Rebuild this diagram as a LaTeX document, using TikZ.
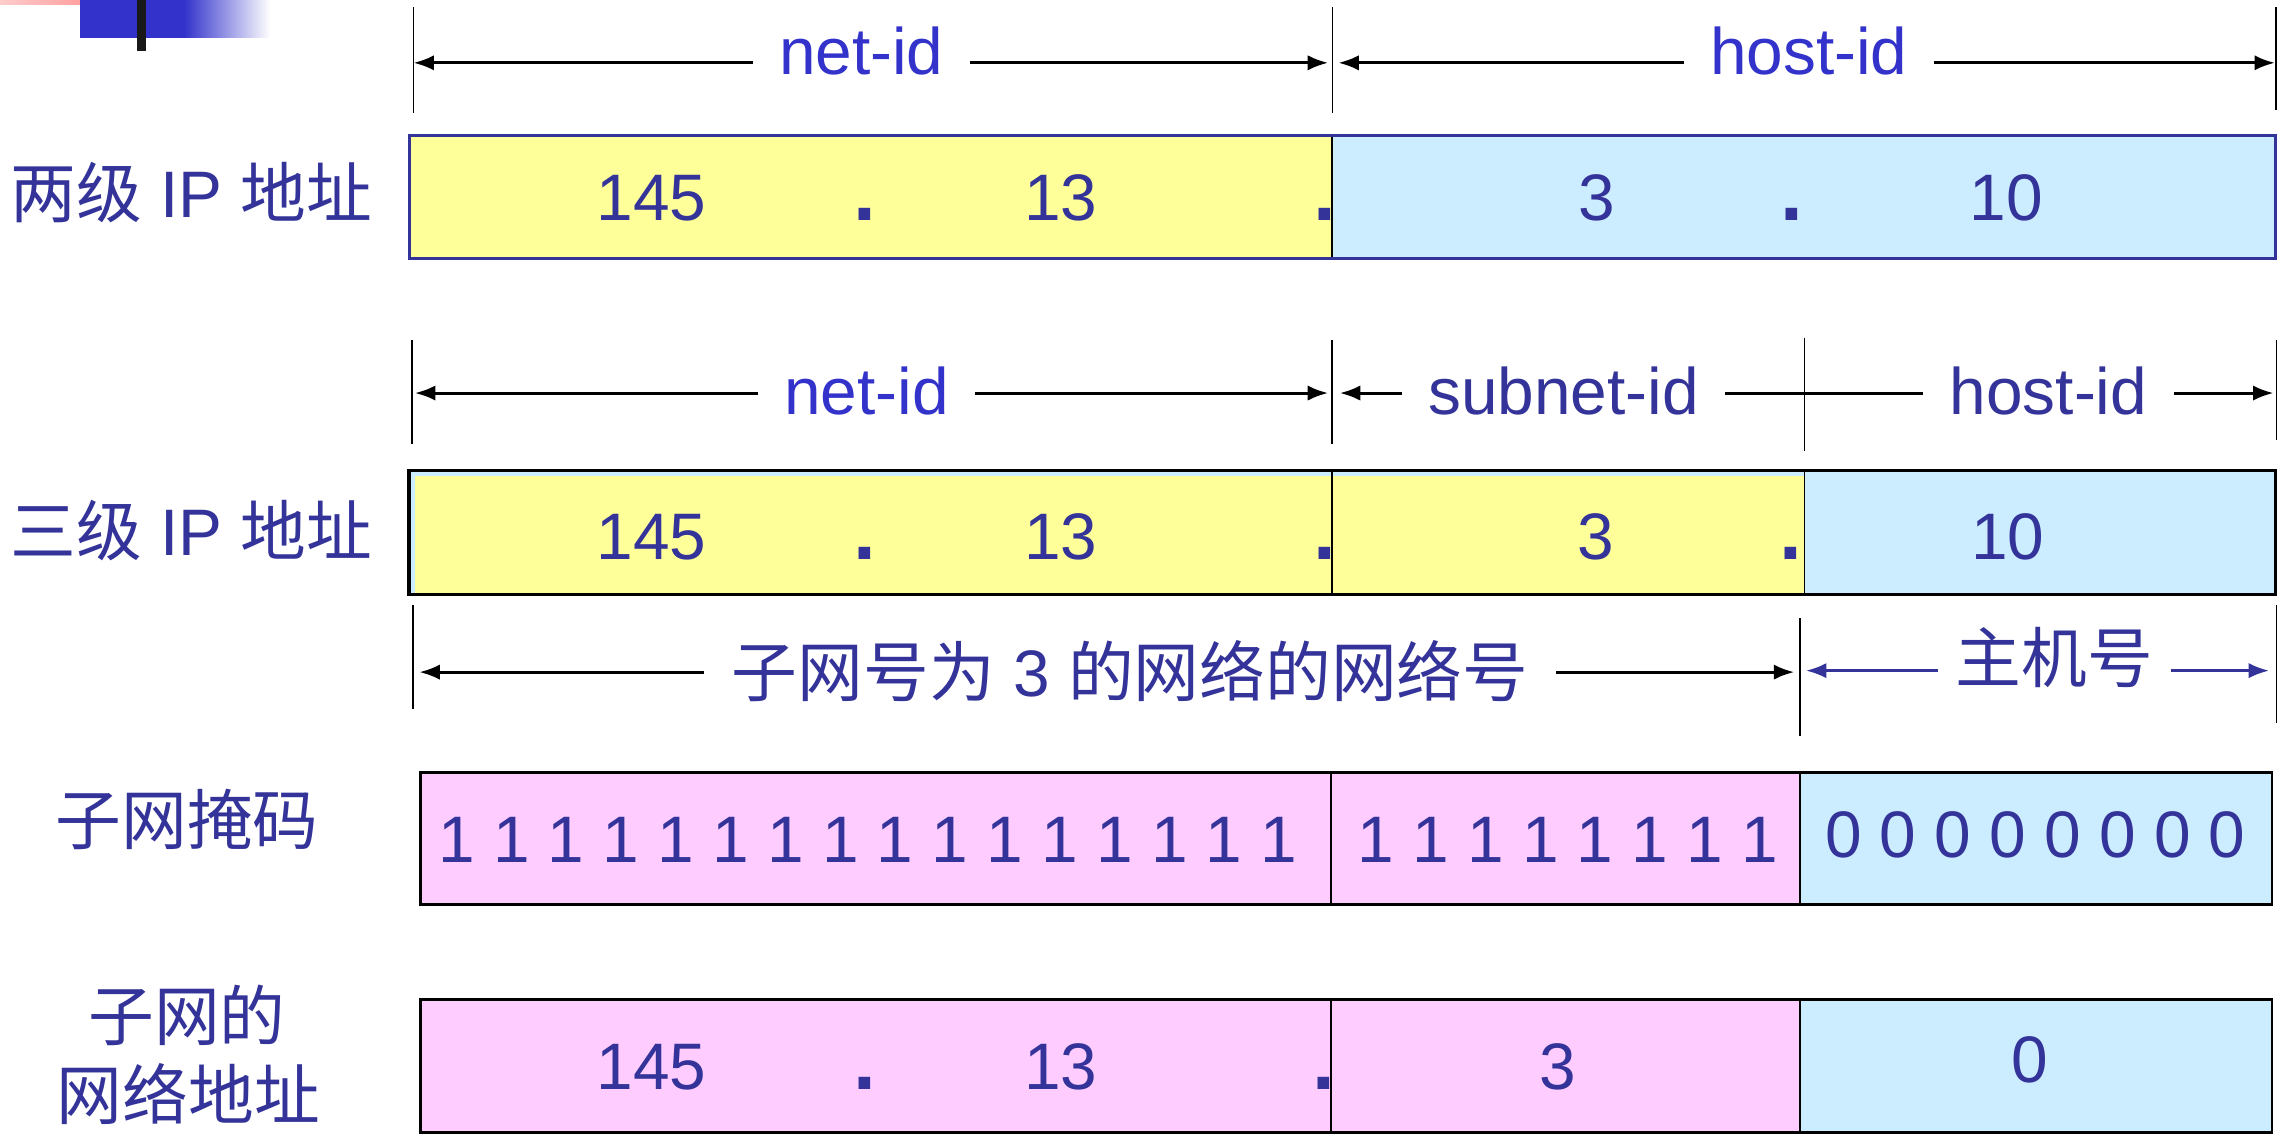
\documentclass[tikz,border=0pt]{standalone}
\usepackage{fontspec}
\setmainfont{Liberation Sans}
\newfontfamily\cjk{Noto Sans CJK SC}
\usetikzlibrary{arrows.meta}
\definecolor{dkblue}{HTML}{333399}
\definecolor{brblue}{HTML}{3333CC}
\definecolor{fillyel}{HTML}{FFFF99}
\definecolor{fillblue}{HTML}{CCECFF}
\definecolor{fillpink}{HTML}{FFCCFF}
\tikzset{
  lbl/.style={anchor=base, text=dkblue, inner sep=0pt},
  dotlbl/.style={anchor=base, text=dkblue, inner sep=0pt, font=\fontsize{56}{60}\selectfont\bfseries},
  dimlbl/.style={anchor=base, inner xsep=18pt, inner ysep=0pt},
  tickline/.style={line width=1.2pt, black},
  divline/.style={line width=1.2pt, black},
  dimarr/.style={line width=2pt, black, -{Latex[length=14pt,width=10.5pt]}},
  bluearr/.style={line width=2pt, dkblue, -{Latex[length=14pt,width=10.5pt]}},
}
\begin{document}
\begin{tikzpicture}[x=1pt, y=-1pt, font=\fontsize{45}{54}\selectfont]
\useasboundingbox (0,0) rectangle (1568,785);
\fill[white] (0,0) rectangle (1568,785);

% corner decoration
\shade[left color=red!20, right color=red!45] (0,0) rectangle (81,3);
\fill[brblue] (55,0) rectangle (126,26);
\shade[left color=brblue, right color=white] (126,0) rectangle (185,26);
\fill[black!90] (94,0) rectangle (100,35);

% ---------- row 1: two-level ----------
\draw[tickline] (283,5) -- (283,77);
\draw[tickline] (912,5) -- (912,77);
\draw[tickline] (1557.5,5) -- (1557.5,75);
\coordinate (r1a) at (283,43);
\coordinate (r1b) at (909,43);
\coordinate (r1c) at (916,43);
\coordinate (r1d) at (1557,43);
\node[dimlbl, text=brblue] (netid1) at (589.5,51) {net-id};
\node[dimlbl, text=brblue] (hostid1) at (1238,51) {host-id};
\draw[dimarr] (netid1.west |- r1a) -- (r1a);
\draw[dimarr] (netid1.east |- r1b) -- (r1b);
\draw[dimarr] (hostid1.west |- r1c) -- (r1c);
\draw[dimarr] (hostid1.east |- r1d) -- (r1d);

\node[lbl] (lab1) at (131,149) {{\cjk 两级} IP {\cjk 地址}};
\fill[fillyel] (280,93) rectangle (911.5,177);
\fill[fillblue] (911.5,93) rectangle (1557.5,177);
\node[lbl] (b1a) at (446,151) {145};
\node[dotlbl] (b1b) at (592,151) {.};
\node[lbl] (b1c) at (726,151) {13};
\node[dotlbl] (b1d) at (907,151) {.};
\node[lbl] (b1e) at (1093,151) {3};
\node[dotlbl] (b1f) at (1226.5,151) {.};
\node[lbl] (b1g) at (1373,151) {10};
\draw[divline] (911.5,93) -- (911.5,177);
\draw[dkblue, line width=2pt] (280,93) rectangle (1557.5,177);

% ---------- row 2: three-level ----------
\draw[tickline] (282,233) -- (282,304);
\draw[tickline] (911.5,233) -- (911.5,304);
\draw[tickline] (1235,231) -- (1235,309);
\draw[tickline] (1558,233) -- (1558,301);
\coordinate (r2a) at (284,269);
\coordinate (r2b) at (909,269);
\coordinate (r2c) at (917,269);
\coordinate (r2d) at (1556,269);
\node[dimlbl, text=brblue] (netid2) at (593,284) {net-id};
\node[dimlbl, text=dkblue] (subid2) at (1070,284) {subnet-id};
\node[dimlbl, text=dkblue] (hostid2) at (1402,284) {host-id};
\draw[dimarr] (netid2.west |- r2a) -- (r2a);
\draw[dimarr] (netid2.east |- r2b) -- (r2b);
\draw[dimarr] (subid2.west |- r2c) -- (r2c);
\draw[line width=2pt] (subid2.east |- r2c) -- (hostid2.west |- r2c);
\draw[dimarr] (hostid2.east |- r2d) -- (r2d);

\node[lbl] (lab2) at (131,380) {{\cjk 三级} IP {\cjk 地址}};
\fill[fillblue] (280,322) rectangle (1557.5,407);
\fill[fillyel] (284,326) rectangle (1235,407);
\node[lbl] (b2a) at (446,383) {145};
\node[dotlbl] (b2b) at (592,383) {.};
\node[lbl] (b2c) at (726,383) {13};
\node[dotlbl] (b2d) at (907,383) {.};
\node[lbl] (b2e) at (1092,383) {3};
\node[dotlbl] (b2f) at (1226,383) {.};
\node[lbl] (b2g) at (1374,383) {10};
\draw[divline] (911.5,322) -- (911.5,407);
\draw[divline] (1235,322) -- (1235,407);
\draw[black, line width=2.4pt] (280,322) rectangle (1557.5,407);

% ---------- row 3: subnet network number / host ----------
\draw[tickline] (282.5,414) -- (282.5,485);
\draw[tickline] (1232,423) -- (1232,504);
\draw[tickline] (1558,414) -- (1558,495);
\coordinate (r3a) at (287,460);
\coordinate (r3b) at (1228,460);
\coordinate (r3c) at (1236,459);
\coordinate (r3d) at (1553,459);
\node[dimlbl, inner xsep=19pt, text=dkblue] (netno) at (773.5,477) {{\cjk 子网号为} 3 {\cjk 的网络的网络号}};
\node[dimlbl, inner xsep=12pt, text=dkblue] (hostno) at (1406,467) {\cjk 主机号};
\draw[dimarr] (netno.west |- r3a) -- (r3a);
\draw[dimarr] (netno.east |- r3b) -- (r3b);
\draw[bluearr] (hostno.west |- r3c) -- (r3c);
\draw[bluearr] (hostno.east |- r3d) -- (r3d);

% ---------- row 4: subnet mask ----------
\node[lbl] (lab4) at (128,578) {\cjk 子网掩码};
\fill[fillpink] (287.5,529) rectangle (1232,619);
\fill[fillblue] (1232,529) rectangle (1555,619);
\node[lbl] (m1) at (594,590.5) {1 1 1 1 1 1 1 1 1 1 1 1 1 1 1 1};
\node[lbl] (m2) at (1073,590.5) {1 1 1 1 1 1 1 1};
\node[lbl] (m3) at (1393,587) {0 0 0 0 0 0 0 0};
\draw[divline] (911,529) -- (911,619);
\draw[divline] (1232,529) -- (1232,619);
\draw[black, line width=2pt] (287.5,529) rectangle (1555,619);

% ---------- row 5: subnet network address ----------
\node[lbl] (lab5a) at (128,712) {\cjk 子网的};
\node[lbl] (lab5b) at (129,766) {\cjk 网络地址};
\fill[fillpink] (287.5,684) rectangle (1232,775);
\fill[fillblue] (1232,684) rectangle (1555,775);
\node[lbl] (n5a) at (446,746) {145};
\node[dotlbl] (n5b) at (592,746) {.};
\node[lbl] (n5c) at (726,746) {13};
\node[dotlbl] (n5d) at (906,746) {.};
\node[lbl] (n5e) at (1066,746) {3};
\node[lbl] (n5f) at (1389.5,741) {0};
\draw[divline] (911,684) -- (911,775);
\draw[divline] (1232,684) -- (1232,775);
\draw[black, line width=2pt] (287.5,684) rectangle (1555,775);
\end{tikzpicture}
\end{document}
